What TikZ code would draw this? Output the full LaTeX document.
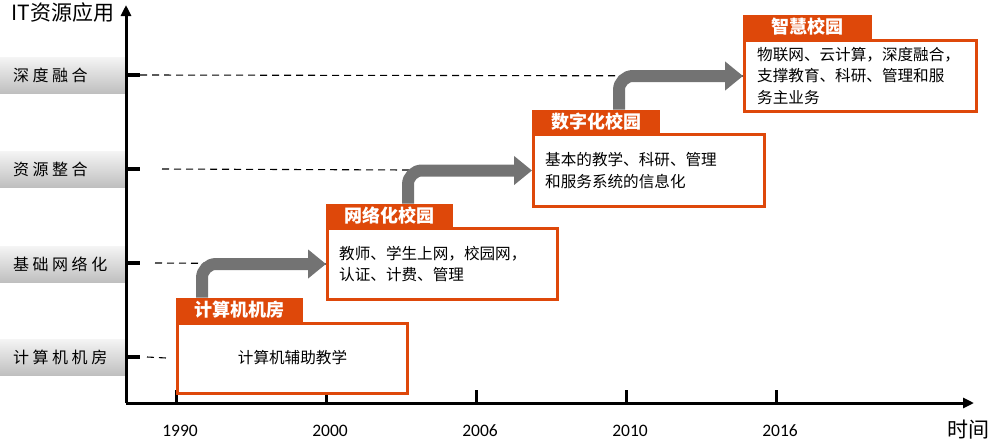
\documentclass[tikz,border=0pt]{standalone}
\usepackage{fontspec}
\setmainfont{Noto Sans CJK SC}
\newfontfamily\numfont{Carlito}
\usetikzlibrary{arrows.meta,calc}
\pgfdeclarelayer{background}
\pgfsetlayers{background,main}
\definecolor{boxorange}{RGB}{222,72,10}
\definecolor{arrowgray}{RGB}{115,115,115}
\begin{document}
\begin{tikzpicture}[x=1pt,y=-1pt,
  bodybox/.style={draw=boxorange, line width=3pt, fill=white, anchor=north west, inner sep=0pt},
  tabbox/.style={fill=boxorange, anchor=south west, inner sep=0pt, text=white, font=\fontsize{18}{18}\selectfont\bfseries},
  bodytext/.style={font=\fontsize{15.6}{21.5}\selectfont, align=left, anchor=west, inner sep=0pt},
  levelband/.style={anchor=west, minimum width=126pt, minimum height=36pt, inner sep=0pt, top color=gray!8, bottom color=gray!50, draw=none},
  leveltext/.style={anchor=west, inner sep=0pt, font=\fontsize{16}{16}\selectfont\addfontfeature{LetterSpace=22}},
  levelguide/.style={dash pattern=on 7pt off 5pt, line width=1.1pt},
  steparrow/.style={draw=arrowgray, line width=12pt, rounded corners=14pt, -{Triangle[length=18pt,width=28pt]}},
  axisline/.style={line width=3pt},
  ticktype/.style={line width=3pt},
  ytick/.style={line width=3.5pt},
  yeartext/.style={font=\numfont\fontsize{17.5}{17.5}\selectfont, inner sep=0pt}
]
\useasboundingbox (0,0) rectangle (991,442);

% level bands
\node[levelband] (band4) at (0,75) {};
\node[levelband] (band3) at (0,169) {};
\node[levelband] (band2) at (0,264) {};
\node[levelband] (band1) at (0,357) {};
\node[leveltext] (lab4) at (13,75) {深度融合};
\node[leveltext] (lab3) at (13,169) {资源整合};
\node[leveltext] (lab2) at (13,264) {基础网络化};
\node[leveltext] (lab1) at (13,357) {计算机机房};

% axes
\coordinate (origin) at (126,403);
\coordinate (ytop) at (126,5);
\coordinate (xend) at (974,403);
\draw[axisline, -{Triangle[length=11pt,width=10pt]}] (origin) -- (ytop);
\draw[axisline, -{Triangle[length=11pt,width=10pt]}] (origin) -- (xend);
\node[font=\fontsize{21}{21}\selectfont, inner sep=0pt] (ylabel) at (63,13) {IT资源应用};
\node[font=\fontsize{21}{21}\selectfont, inner sep=0pt] (xlabel) at (968,430) {时间};

% y ticks
\coordinate (ya4) at (126,75);  \coordinate (yb4) at (140,75);
\coordinate (ya3) at (126,169); \coordinate (yb3) at (140,169);
\coordinate (ya2) at (126,263); \coordinate (yb2) at (140,263);
\coordinate (ya1) at (126,357); \coordinate (yb1) at (140,357);
\draw[ytick] (ya4) -- (yb4);
\draw[ytick] (ya3) -- (yb3);
\draw[ytick] (ya2) -- (yb2);
\draw[ytick] (ya1) -- (yb1);

% x ticks and years
\foreach \xx/\yr [count=\i] in {176/1990,326/2000,476/2006,626/2010,776/2016}{
  \coordinate (xa\i) at (\xx,403);
  \coordinate (xb\i) at (\xx,390);
  \draw[ticktype] (xa\i) -- (xb\i);
  \node[yeartext] (yr\i) at (\xx+4,431) {\yr};
}

% boxes
\node[bodybox, minimum width=230pt, minimum height=70pt] (b1) at (176,322) {};
\node[bodybox, minimum width=230pt, minimum height=71pt] (b2) at (326,227) {};
\node[bodybox, minimum width=231pt, minimum height=72pt] (b3) at (532,133) {};
\node[bodybox, minimum width=232pt, minimum height=71pt] (b4) at (743,39) {};

% tabs
\node[tabbox, minimum width=127pt, minimum height=24pt] (t1) at (b1.north west) {计算机机房};
\node[tabbox, minimum width=127pt, minimum height=23pt] (t2) at (b2.north west) {网络化校园};
\node[tabbox, minimum width=128pt, minimum height=23pt] (t3) at (b3.north west) {数字化校园};
\node[tabbox, minimum width=129pt, minimum height=24pt] (t4) at (b4.north west) {智慧校园};

% guides and step arrows behind the boxes
\coordinate (g4) at (140,75);
\coordinate (g3) at (162,169);
\coordinate (g2) at (155,263);
\coordinate (g1) at (147,357);
\begin{pgfonlayer}{background}
\draw[levelguide] (g4) -- (b4.west);
\draw[levelguide] (g3) -- (b3.west);
\draw[levelguide] (g2) -- (b2.west);
\draw[levelguide, shorten >=9pt] (g1) -- (b1.west);
\draw[steparrow] ($(t1.north west)+(26,0)$) |- (b2.west);
\draw[steparrow] ($(t2.north west)+(82,0)$) |- (b3.west);
\draw[steparrow] ($(t3.north west)+(87,0)$) |- (b4.west);
\end{pgfonlayer}

% body texts
\node[bodytext, anchor=center] (x1) at ($(b1.center)+(0,-1)$) {计算机辅助教学};
\node[bodytext] (x2) at ($(b2.west)+(13,0)$) {教师、学生上网，校园网，\\认证、计费、管理};
\node[bodytext] (x3) at ($(b3.west)+(13,0)$) {基本的教学、科研、管理\\和服务系统的信息化};
\node[bodytext] (x4) at ($(b4.west)+(14,0)$) {物联网、云计算，深度融合，\\支撑教育、科研、管理和服\\务主业务};
\end{tikzpicture}
\end{document}
